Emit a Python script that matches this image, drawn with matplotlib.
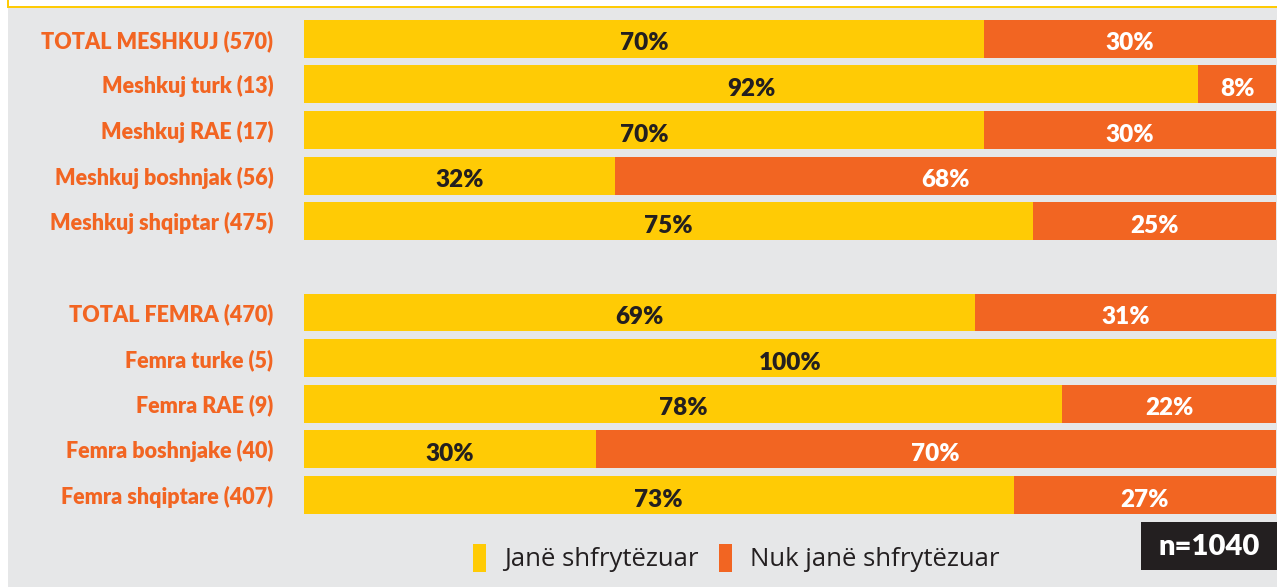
import matplotlib.pyplot as plt
from matplotlib.patches import Rectangle, Patch

# data
labels = ['TOTAL MESHKUJ (570)', 'Meshkuj turk (13)', 'Meshkuj RAE (17)',
          'Meshkuj boshnjak (56)', 'Meshkuj shqiptar (475)', '',
          'TOTAL FEMRA (470)', 'Femra turke (5)', 'Femra RAE (9)',
          'Femra boshnjake (40)', 'Femra shqiptare (407)']
used = [70, 92, 70, 32, 75, None, 69, 100, 78, 30, 73]
not_used = [30, 8, 30, 68, 25, None, 31, 0, 22, 70, 27]
legend_names = ['Janë shfrytëzuar', 'Nuk janë shfrytëzuar']

YEL = '#ffcb05'
ORA = '#f26522'
BG = '#e6e7e8'

W, H = 1277, 587
fig = plt.figure(figsize=(W / 100, H / 100), dpi=100, facecolor='white')
plt.rcParams['font.family'] = ['Lato', 'DejaVu Sans']

# frame: grey panel with yellow border pieces at top and left
fig.patches.append(Rectangle((8 / W, 0), 1, 1 - 8 / H, transform=fig.transFigure,
                             facecolor=BG, edgecolor='none', zorder=-2))
fig.patches.append(Rectangle((7 / W, 1 - 8 / H), 1, 2 / H, transform=fig.transFigure,
                             facecolor=YEL, edgecolor='none', zorder=-1))
fig.patches.append(Rectangle((7 / W, 1 - 8 / H), 2 / W, 8 / H, transform=fig.transFigure,
                             facecolor=YEL, edgecolor='none', zorder=-1))

# axes placed in pixel space
top_px, bot_px = 4.6, 529.2
left_px, right_px = 304, 1276
ax = fig.add_axes([left_px / W, 1 - bot_px / H, (right_px - left_px) / W, (bot_px - top_px) / H])
ax.set_zorder(2)
ax.set_facecolor('none')
ax.set_xlim(0, 100)
ax.set_ylim(10.75, -0.75)
for s in ax.spines.values():
    s.set_visible(False)
ax.set_xticks([])

ys = list(range(len(labels)))
for y, u, n in zip(ys, used, not_used):
    if u is None:
        continue
    ax.barh(y, u, height=0.83, color=YEL, edgecolor='none')
    ax.barh(y, n, left=u, height=0.83, color=ORA, edgecolor='none')
    if u > 0:
        ax.text(u / 2, y + 0.1, f'{u}%', ha='center', va='center', fontsize=17.5,
                fontweight='heavy', color='#231f20')
    if n > 0:
        ax.text(u + n / 2, y + 0.1, f'{n}%', ha='center', va='center', fontsize=17.5,
                fontweight='heavy', color='white')

ax.set_yticks(ys)
ax.set_yticklabels(labels, fontsize=15.5, fontweight='heavy', color=ORA)
for t in ax.get_yticklabels():
    t.set_y(t.get_position()[1])
ax.tick_params(axis='y', length=0, pad=22)

handles = [Patch(facecolor=YEL, edgecolor='none'), Patch(facecolor=ORA, edgecolor='none')]
fig.legend(handles, legend_names, loc='center', bbox_to_anchor=(736 / W, 1 - 558 / H),
           ncol=2, frameon=False, prop={'family': ['Open Sans', 'DejaVu Sans'], 'size': 18.5},
           handlelength=0.5, handleheight=1.3, handletextpad=0.7, columnspacing=0.8,
           labelcolor='#231f20')

fig.patches.append(Rectangle((1141 / W, 1 - 570 / H), 136 / W, 48 / H, transform=fig.transFigure,
                             facecolor='#231f20', edgecolor='none', zorder=2))
fig.text(1209 / W, 1 - 547 / H, 'n=1040', ha='center', va='center', fontsize=21,
         fontweight='heavy', color='white', zorder=3)

fig.savefig('out.png', dpi=100, facecolor=fig.get_facecolor())
